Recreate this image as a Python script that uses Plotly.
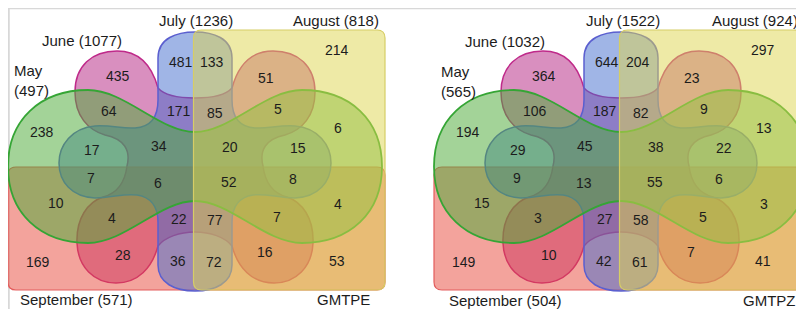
import plotly.graph_objects as go

# ---------------- data ----------------
set_names = ["May", "June", "July", "August", "September"]
set_keys = ["M", "J", "L", "A", "S"]
panels = ["GMTPE", "GMTPZ"]
regions = ["J", "L", "JL", "A", "AL", "AJ", "AJL", "M", "MJ", "ML", "MJL",
           "AM", "AMJ", "AML", "AMJL", "SM", "SML", "SMJL", "SMJ", "S", "SJ",
           "SJL", "SL", "ASM", "ASML", "ASMJL", "ASMJ", "AS", "ASJ", "ASJL", "ASL"]
gmtpe = [435, 481, 171, 214, 133, 51, 85, 238, 64, 17, 34, 6, 5, 15, 20, 10, 7, 6, 4,
         169, 28, 22, 36, 4, 8, 52, 7, 53, 16, 77, 72]
gmtpz = [364, 644, 187, 297, 204, 23, 82, 194, 106, 29, 45, 13, 9, 22, 38, 15, 9, 13, 3,
         149, 10, 27, 42, 3, 6, 55, 5, 41, 7, 58, 61]

# ---------------- layout constants (positions / styles) ----------------
W, H = 804, 309
PAGE_OFF = 8          # the page body margin shifts the plot; compensate via axis ranges
CX = 195.0
PANEL_DX = [0.0, 426.0]
RECT_RIGHT = [385.0, 375.5]   # right edge of the two rectangles, per panel (local coords)

region_xy = {
    "J": (118, 76), "L": (181, 62), "JL": (179, 111), "A": (337, 50), "AL": (212, 62),
    "AJ": (266, 78), "AJL": (215, 113), "M": (42, 132), "MJ": (109, 111), "ML": (92, 150),
    "MJL": (159, 146), "AM": (338, 128), "AMJ": (278, 109), "AML": (298, 148),
    "AMJL": (230, 147), "SM": (56, 203), "SML": (91, 178), "SMJL": (158, 183),
    "SMJ": (112, 218), "S": (38, 262), "SJ": (123, 255), "SJL": (179, 219),
    "SL": (178, 261), "ASM": (338, 204), "ASML": (293, 179), "ASMJL": (229, 182),
    "ASMJ": (277, 217), "AS": (337, 261), "ASJ": (265, 252), "ASJL": (215, 220),
    "ASL": (214, 262),
}

label_pos = [
    {"L": (196, 20), "A": (336, 20.5), "J": (82, 40.5), "M": (12, 80.5), "S": (76.5, 299), "name": (343.5, 299)},
    {"L": (622.5, 20), "A": (754.5, 20.5), "J": (505, 41.5), "M": (439, 81.5), "S": (505, 300), "name": (769.5, 300)},
]

FONT = "Arial, Liberation Sans, Helvetica, sans-serif"
TXT = "#1c1c1c"

styles = {
    "S": dict(fill="rgba(232,72,58,0.5)", line="#e35d5d", w=1.2),
    "J": dict(fill="rgba(180,32,128,0.5)", line="#bf2a8a", w=1.5),
    "L": dict(fill="rgba(66,108,205,0.5)", line="#5b5fcf", w=1.5),
    "M": dict(fill="rgba(78,170,58,0.52)", line="#35a535", w=1.8),
    "A": dict(fill="rgba(222,214,78,0.5)", line="#d6cd66", w=1.2),
}
draw_order = ["J", "S", "L", "M", "A"]

# half outlines (left half, from top-centre down to bottom-centre), mirrored about CX
july_half = [(195, 32),
             [((177, 32), (158, 38), (158, 58)),
              ((158, 72), (158, 86), (158, 100)),
              ((158, 118), (150, 127), (135, 128)),
              ((122, 129), (112, 125), (95, 126)),
              ((72, 128), (59, 145), (59, 163)),
              ((59, 182), (72, 197), (95, 198)),
              ((112, 198), (124, 193), (137, 195)),
              ((150, 197), (158, 206), (158, 222)),
              ((158, 236), (158, 251), (158, 265)),
              ((158, 283), (175, 291), (195, 291))]]
june_half = [(195, 98),
             [((180, 98), (165, 96), (158, 88)),
              ((152, 66), (140, 51), (117, 51)),
              ((92, 51), (75, 66), (75, 92)),
              ((75, 116), (88, 130), (105, 135)),
              ((124, 139), (131, 150), (127, 166)),
              ((125, 182), (118, 193), (103, 197)),
              ((88, 202), (76, 218), (77, 243)),
              ((78, 267), (94, 283), (116, 283)),
              ((138, 283), (152, 268), (158, 246)),
              ((165, 237), (180, 232), (195, 232))]]
may_half = [(195, 132),
            [((160, 132), (125, 90), (88, 90)),
             ((40, 90), (8, 120), (8, 166.5)),
             ((8, 213), (40, 243), (88, 243)),
             ((125, 243), (160, 201), (195, 201))]]


def fmt(p, dx):
    return f"{p[0] + dx:.2f},{p[1]:.2f}"


def sym_path(half, dx):
    start, segs = half
    mir = lambda p: (2 * CX - p[0], p[1])
    d = "M" + fmt(start, dx)
    for c1, c2, p in segs:
        d += " C" + fmt(c1, dx) + " " + fmt(c2, dx) + " " + fmt(p, dx)
    nodes = [start] + [s[2] for s in segs]
    for i in range(len(segs) - 1, -1, -1):
        c1, c2, p = segs[i]
        d += " C" + fmt(mir(c2), dx) + " " + fmt(mir(c1), dx) + " " + fmt(mir(nodes[i]), dx)
    return d + " Z"


def rrect(x0, y0, x1, y1, r, dx):
    x0 += dx
    x1 += dx
    return (f"M{x0 + r},{y0} L{x1 - r},{y0} Q{x1},{y0} {x1},{y0 + r} L{x1},{y1 - r} "
            f"Q{x1},{y1} {x1 - r},{y1} L{x0 + r},{y1} Q{x0},{y1} {x0},{y1 - r} "
            f"L{x0},{y0 + r} Q{x0},{y0} {x0 + r},{y0} Z")


def set_path(key, pi):
    dx = PANEL_DX[pi]
    if key == "S":
        return rrect(8, 167, RECT_RIGHT[pi], 290, 8, dx)
    if key == "A":
        return rrect(193.5, 30, RECT_RIGHT[pi], 290, 8, dx)
    if key == "M":
        return sym_path(may_half, dx)
    if key == "J":
        return sym_path(june_half, dx)
    return sym_path(july_half, dx)


shapes = []
# light frame
shapes.append(dict(type="rect", xref="x", yref="y", x0=8.5, y0=8, x1=830, y1=340,
                   line=dict(color="#d8d8d8", width=2.5), fillcolor="rgba(0,0,0,0)", layer="below"))

annotations = []
for pi, (pname, vals) in enumerate(zip(panels, [gmtpe, gmtpz])):
    dx = PANEL_DX[pi]
    for key in draw_order:
        st = styles[key]
        shapes.append(dict(type="path", xref="x", yref="y", path=set_path(key, pi),
                           fillcolor=st["fill"], line=dict(color=st["line"], width=st["w"])))
    for reg, v in zip(regions, vals):
        x, y = region_xy[reg]
        annotations.append(dict(x=x + dx, y=y, xref="x", yref="y", text=str(v), showarrow=False,
                                xanchor="center", yanchor="middle",
                                font=dict(family=FONT, size=14, color=TXT)))
    totals = {k: sum(v for r, v in zip(regions, vals) if k in r) for k in set_keys}
    lp = label_pos[pi]
    for k, nm in zip(set_keys, set_names):
        x, y = lp[k]
        if k == "M":
            annotations.append(dict(x=x, y=y, xref="x", yref="y", text=f"{nm}<br>({totals[k]})",
                                    showarrow=False, xanchor="left", yanchor="middle", align="left",
                                    font=dict(family=FONT, size=15, color=TXT)))
        else:
            annotations.append(dict(x=x, y=y, xref="x", yref="y", text=f"{nm} ({totals[k]})",
                                    showarrow=False, xanchor="center", yanchor="middle",
                                    font=dict(family=FONT, size=15, color=TXT)))
    x, y = lp["name"]
    annotations.append(dict(x=x, y=y, xref="x", yref="y", text=pname, showarrow=False,
                            xanchor="center", yanchor="middle",
                            font=dict(family=FONT, size=15, color=TXT)))

fig = go.Figure()
fig.add_trace(go.Scatter(x=[PAGE_OFF, W + PAGE_OFF], y=[PAGE_OFF, H + PAGE_OFF], mode="markers",
                         marker=dict(opacity=0), hoverinfo="skip", showlegend=False))
fig.update_layout(
    width=W, height=H, margin=dict(l=0, r=0, t=0, b=0),
    paper_bgcolor="white", plot_bgcolor="white",
    xaxis=dict(range=[PAGE_OFF, W + PAGE_OFF], visible=False, fixedrange=True),
    yaxis=dict(range=[H + PAGE_OFF, PAGE_OFF], visible=False, fixedrange=True),
    shapes=shapes, annotations=annotations, showlegend=False,
)
fig.write_html("out.html")
